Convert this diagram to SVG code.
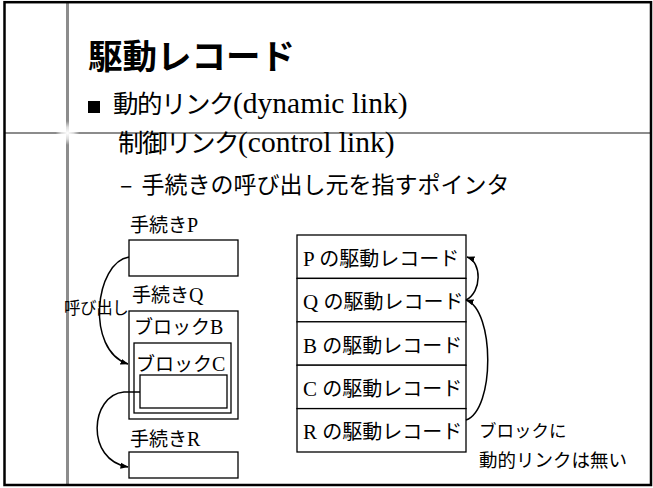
<svg xmlns="http://www.w3.org/2000/svg" width="653" height="488" viewBox="0 0 653 488">
<style>
.jp{font-family:"Noto Sans CJK JP","Noto Sans CJK SC",sans-serif;fill:#000}
.rm{font-family:"Liberation Serif","Times New Roman",serif}
.box{fill:#fff;stroke:#000;stroke-width:1.3}
.conn{fill:none;stroke:#000;stroke-width:1.5;marker-end:url(#ah)}
.guide{stroke:#8c8c8c;fill:none}
</style>
<defs>
<marker id="ah" markerWidth="8" markerHeight="7" refX="7.5" refY="3.5" orient="auto" markerUnits="userSpaceOnUse">
<path d="M0,0.5 L8,3.5 L0,6.5 z" fill="#000"/>
</marker>
<radialGradient id="glow">
<stop offset="0" stop-color="#fff" stop-opacity="1"/>
<stop offset="0.5" stop-color="#fff" stop-opacity="0.7"/>
<stop offset="1" stop-color="#fff" stop-opacity="0"/>
</radialGradient>
</defs>
<rect x="0" y="0" width="653" height="488" fill="#fff"/>
<g id="frame">
<line class="guide" x1="67.5" y1="2" x2="67.5" y2="485" stroke-width="3"/>
<line class="guide" x1="4" y1="133" x2="651" y2="133" stroke-width="2"/>
<circle cx="67.5" cy="133" r="12" fill="url(#glow)"/>
<rect x="4.5" y="2.2" width="646.5" height="482.8" fill="none" stroke="#000" stroke-width="2.5"/>
</g>
<g id="title">
<text class="jp" x="88" y="69" font-size="34.5" font-weight="bold">駆動レコード</text>
</g>
<g id="bullets">
<rect x="88" y="101" width="12" height="12" fill="#000"/>
<text x="113" y="113" font-size="25.5"><tspan class="jp" letter-spacing="-1.5">動的リンク</tspan><tspan class="rm" font-size="29.5">(dynamic link)</tspan></text>
<text x="118" y="152" font-size="25.5"><tspan class="jp" letter-spacing="-1.5">制御リンク</tspan><tspan class="rm" font-size="29.5">(control link)</tspan></text>
<text class="jp" x="120" y="193" font-size="23">– <tspan x="141.5">手続きの呼び出し元を指すポインタ</tspan></text>
</g>
<g id="procP">
<text x="130" y="232" font-size="19"><tspan class="jp">手続き</tspan><tspan class="rm" font-size="20">P</tspan></text>
<rect class="box" x="129" y="240" width="109" height="36"/>
</g>
<g id="procQ">
<text x="132" y="302" font-size="19"><tspan class="jp">手続き</tspan><tspan class="rm" font-size="20">Q</tspan></text>
<rect class="box" x="129" y="311" width="109" height="108"/>
<text x="134" y="334" font-size="19"><tspan class="jp">ブロック</tspan><tspan class="rm" font-size="20">B</tspan></text>
</g>
<g id="blockC">
<rect class="box" x="134" y="343" width="97" height="70"/>
<text x="136" y="371" font-size="19"><tspan class="jp">ブロック</tspan><tspan class="rm" font-size="20">C</tspan></text>
<rect class="box" x="140" y="375" width="87" height="33"/>
</g>
<g id="procR">
<text x="130" y="446" font-size="19"><tspan class="jp">手続き</tspan><tspan class="rm" font-size="20">R</tspan></text>
<rect class="box" x="129" y="452" width="109" height="26"/>
</g>
<g id="callLabel">
<text class="jp" x="64" y="314" font-size="16.5" letter-spacing="-0.4">呼び出し</text>
</g>
<g id="stack">
<rect class="box" x="297" y="235" width="169" height="43.4"/>
<rect class="box" x="297" y="278.4" width="169" height="43.4"/>
<rect class="box" x="297" y="321.8" width="169" height="43.4"/>
<rect class="box" x="297" y="365.2" width="169" height="43.4"/>
<rect class="box" x="297" y="408.6" width="169" height="43.4"/>
<text x="303" y="265.5" font-size="20"><tspan class="rm" font-size="21">P </tspan><tspan class="jp">の駆動レコード</tspan></text>
<text x="303" y="309" font-size="20"><tspan class="rm" font-size="21">Q </tspan><tspan class="jp">の駆動レコード</tspan></text>
<text x="303" y="352.5" font-size="20"><tspan class="rm" font-size="21">B </tspan><tspan class="jp">の駆動レコード</tspan></text>
<text x="303" y="396" font-size="20"><tspan class="rm" font-size="21">C </tspan><tspan class="jp">の駆動レコード</tspan></text>
<text x="303" y="439" font-size="20"><tspan class="rm" font-size="21">R </tspan><tspan class="jp">の駆動レコード</tspan></text>
</g>
<g id="note">
<text class="jp" x="479" y="437" font-size="17.5">ブロックに</text>
<text class="jp" x="479" y="467" font-size="18.5">動的リンクは無い</text>
</g>
<g id="connectors">
<path class="conn" d="M129,257 C95,262 85,350 128,364"/>
<path class="conn" d="M140,392 L124,392 C90,395 85,460 128,467"/>
<path class="conn" d="M466,300 C482,292 482,262 467,257"/>
<path class="conn" d="M466,420 C495,410 495,310 466,300"/>
</g>
</svg>
